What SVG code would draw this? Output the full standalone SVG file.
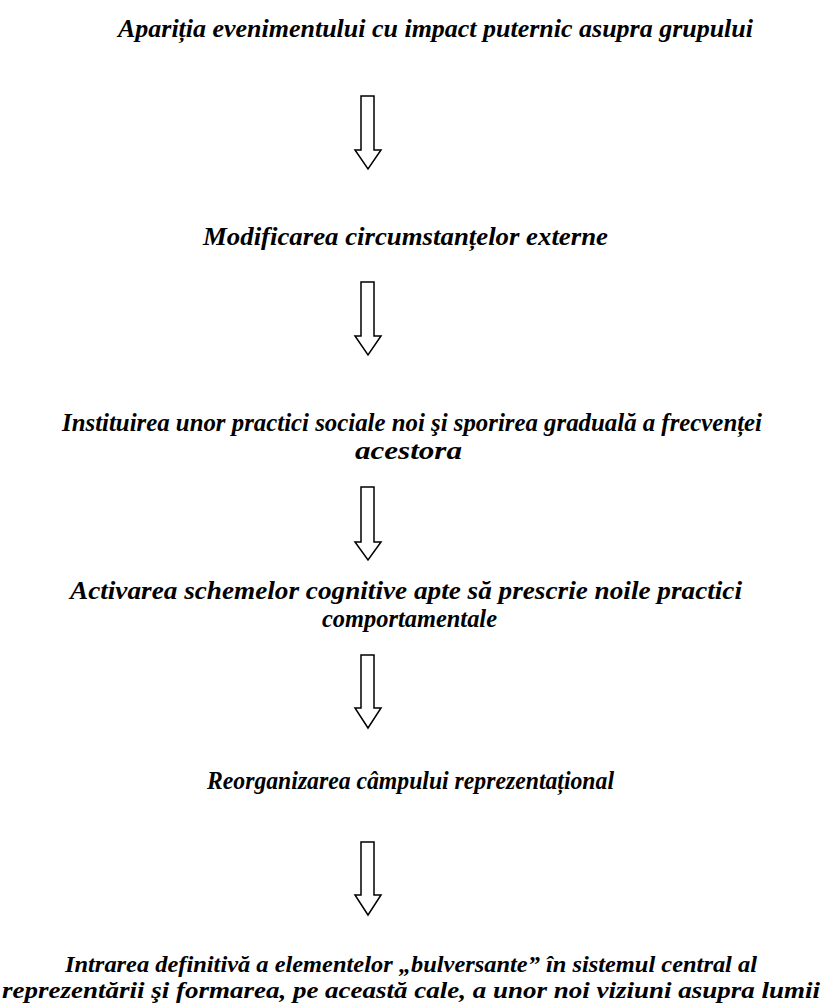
<svg xmlns="http://www.w3.org/2000/svg" width="822" height="1003" viewBox="0 0 822 1003">
<style>
text{font-family:"Liberation Serif","Times New Roman",Times,serif;font-weight:700;font-style:italic;font-size:26px;fill:#000}
text.sm{font-size:23px}
.arr{fill:#fff;stroke:#000;stroke-width:1.5;stroke-linejoin:miter}
</style>
<rect width="822" height="1003" fill="#fff"/>
<g id="n1"><text x="118" y="37" textLength="635" lengthAdjust="spacingAndGlyphs">Apariția evenimentului cu impact puternic asupra grupului</text></g>
<g id="n2"><text x="203" y="245" textLength="405" lengthAdjust="spacingAndGlyphs">Modificarea circumstanțelor externe</text></g>
<g id="n3"><text x="62" y="431" textLength="700" lengthAdjust="spacingAndGlyphs">Instituirea unor practici sociale noi şi sporirea graduală a frecvenței</text>
<text x="355" y="459" textLength="107" lengthAdjust="spacingAndGlyphs">acestora</text></g>
<g id="n4"><text x="70" y="599" textLength="672" lengthAdjust="spacingAndGlyphs">Activarea schemelor cognitive apte să prescrie noile practici</text>
<text x="322" y="627" textLength="175" lengthAdjust="spacingAndGlyphs">comportamentale</text></g>
<g id="n5"><text x="207" y="789" textLength="407" lengthAdjust="spacingAndGlyphs">Reorganizarea câmpului reprezentațional</text></g>
<g id="n6"><text class="sm" x="65" y="972" textLength="692" lengthAdjust="spacingAndGlyphs">Intrarea definitivă a elementelor „bulversante” în sistemul central al</text>
<text class="sm" x="2" y="998" textLength="818" lengthAdjust="spacingAndGlyphs">reprezentării şi formarea, pe această cale, a unor noi viziuni asupra lumii</text></g>
<g id="connectors">
<polygon class="arr" points="361,96 374,96 374,150 381,150 368,169 355,150 361,150"/>
<polygon class="arr" points="361,282 374,282 374,336 381,336 368,355 355,336 361,336"/>
<polygon class="arr" points="361,487 374,487 374,542 381,542 368,560 355,542 361,542"/>
<polygon class="arr" points="361,655 374,655 374,708 381,708 368,728 355,708 361,708"/>
<polygon class="arr" points="361,842 374,842 374,895 381,895 368,915 355,895 361,895"/>
</g>
</svg>
